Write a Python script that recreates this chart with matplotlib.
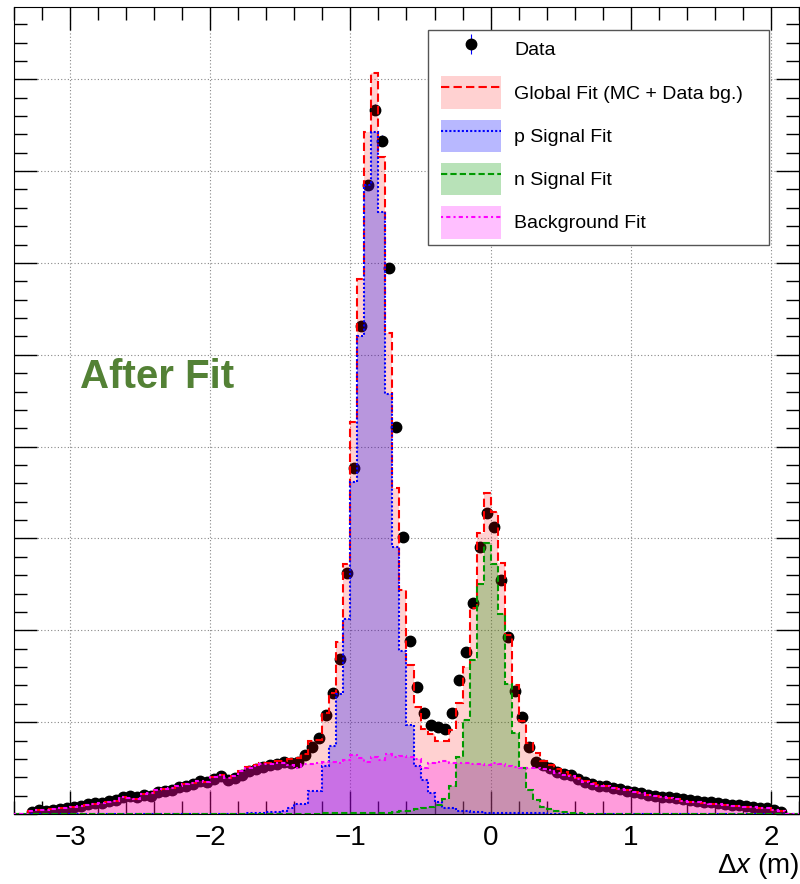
import numpy as np
import matplotlib.pyplot as plt
from matplotlib.patches import Patch, Rectangle
from matplotlib.lines import Line2D
from matplotlib.ticker import MultipleLocator

plt.rcParams['font.family'] = ['Liberation Sans', 'DejaVu Sans']
plt.rcParams['mathtext.fontset'] = 'custom'
plt.rcParams['mathtext.rm'] = 'Liberation Sans'
plt.rcParams['mathtext.it'] = 'Liberation Sans:italic'

# binning of the histograms (metres), 0.05 m bins
bin_lo, bin_hi, bin_w = -3.4, 2.2, 0.05
edges = np.round(np.arange(bin_lo, bin_hi + bin_w / 2, bin_w), 3)

# bin contents, y in units of one grid line (original has no y labels)
data = [0, 0, 0.02, 0.04, 0.035, 0.04, 0.05, 0.07, 0.08, 0.09,
        0.11, 0.12, 0.12, 0.14, 0.15, 0.19, 0.20, 0.19, 0.21, 0.20,
        0.24, 0.25, 0.26, 0.29, 0.30, 0.33, 0.36, 0.35, 0.38, 0.41,
        0.37, 0.39, 0.43, 0.47, 0.49, 0.51, 0.53, 0.54, 0.57, 0.55,
        0.57, 0.64, 0.73, 0.83, 1.08, 1.32, 1.69, 2.62, 3.77, 5.31,
        6.85, 7.67, 7.33, 5.94, 4.21, 3.02, 1.88, 1.38, 1.10, 0.97,
        0.95, 0.93, 1.10, 1.46, 1.76, 2.30, 2.91, 3.28, 3.13, 2.55,
        1.93, 1.34, 1.06, 0.73, 0.57, 0.53, 0.50, 0.46, 0.44, 0.42,
        0.38, 0.35, 0.33, 0.31, 0.30, 0.28, 0.27, 0.25, 0.24, 0.23,
        0.21, 0.20, 0.19, 0.18, 0.17, 0.16, 0.15, 0.14, 0.13, 0.13,
        0.12, 0.11, 0.10, 0.10, 0.09, 0.08, 0.07, 0.06, 0.04, 0.02,
        0, 0]

p_sig = [0] * 33 + [
        0.01, 0.015, 0.015, 0.02, 0.02, 0.03, 0.07,
        0.11, 0.11, 0.25, 0.25, 0.52, 0.74, 1.31, 2.12, 3.62, 5.20,
        6.85, 7.43, 6.55, 4.57, 2.91, 1.78, 0.97, 0.52, 0.37, 0.23,
        0.13, 0.06, 0.06, 0.03, 0.03, 0.02, 0.02, 0.01, 0.01, 0.01,
        0.01, 0.01, 0.01, 0.01, 0.01, 0.01, 0.005, 0.005, 0.005, 0.005,
        0.005] + [0] * 31

n_sig = [0] * 40 + [
        0.005, 0.005, 0.005, 0.005, 0.01, 0.01, 0.01, 0.01, 0.01, 0.01,
        0.01, 0.015, 0.015, 0.015, 0.02, 0.03, 0.03, 0.05, 0.06, 0.08,
        0.10, 0.16, 0.30, 0.62, 1.02, 1.68, 2.50, 2.95, 2.72, 2.18,
        1.42, 0.88, 0.50, 0.26, 0.15, 0.08, 0.05, 0.03, 0.02, 0.01,
        0.01, 0.005, 0.005, 0.005, 0.005, 0.005] + [0] * 26

bkg = [0, 0, 0.03, 0.04, 0.045, 0.05, 0.06, 0.07, 0.08, 0.09,
       0.10, 0.11, 0.12, 0.13, 0.14, 0.18, 0.17, 0.16, 0.22, 0.23,
       0.26, 0.27, 0.28, 0.31, 0.33, 0.34, 0.36, 0.35, 0.40, 0.43,
       0.39, 0.41, 0.47, 0.50, 0.52, 0.54, 0.54, 0.56, 0.55, 0.53,
       0.50, 0.54, 0.54, 0.55, 0.57, 0.57, 0.55, 0.59, 0.64, 0.61,
       0.57, 0.62, 0.59, 0.65, 0.62, 0.63, 0.62, 0.60, 0.50, 0.56,
       0.57, 0.58, 0.55, 0.56, 0.55, 0.54, 0.54, 0.53, 0.56, 0.54,
       0.52, 0.51, 0.50, 0.50, 0.50, 0.49, 0.48, 0.45, 0.43, 0.41,
       0.38, 0.35, 0.33, 0.31, 0.30, 0.28, 0.27, 0.26, 0.24, 0.23,
       0.21, 0.20, 0.18, 0.17, 0.16, 0.14, 0.13, 0.13, 0.12, 0.11,
       0.11, 0.10, 0.09, 0.09, 0.08, 0.075, 0.07, 0.06, 0.045, 0.03,
       0, 0]

events_per_unit = 2000  # for the statistical error bars

data = np.array(data)
p_sig = np.array(p_sig)
n_sig = np.array(n_sig)
bkg = np.array(bkg)
glob = p_sig + n_sig + bkg
centres = 0.5 * (edges[1:] + edges[:-1])
err = np.sqrt(data * events_per_unit) / events_per_unit

fig = plt.figure(figsize=(8, 8.84), dpi=100)
ax = fig.add_axes([14 / 800, 70 / 884, 785 / 800, 807.3 / 884])

m = data > 0
dots = ax.errorbar(centres[m], data[m], yerr=err[m], fmt='o', color='black',
                   ms=7.5, ecolor='blue', elinewidth=0.8, capsize=0, zorder=2)

fits = [
    (glob, 'red', 0.18, (0, (4, 2)), 'Global Fit (MC + Data bg.)'),
    (p_sig, 'blue', 0.28, (0, (1, 1)), 'p Signal Fit'),
    (n_sig, '#009900', 0.28, (0, (3, 1.5)), 'n Signal Fit'),
    (bkg, 'magenta', 0.25, (0, (1, 1.5, 2, 1.5)), 'Background Fit'),
]
handles = [dots]
labels = ['Data']
for vals, col, a, ls, lab in fits:
    ax.stairs(vals, edges, fill=True, color=col, alpha=a, lw=0, zorder=3)
    ax.stairs(vals, edges, color=col, ls=ls, lw=1.5, zorder=4)
    handles.append((Patch(facecolor=col, alpha=a, lw=0),
                    Line2D([], [], color=col, ls=ls, lw=1.5)))
    labels.append(lab)

ax.set_xlim(-3.4, 2.2)
ax.set_ylim(0, 8.79)
ax.xaxis.set_major_locator(MultipleLocator(1))
ax.xaxis.set_minor_locator(MultipleLocator(0.2))
ax.yaxis.set_major_locator(MultipleLocator(1))
ax.yaxis.set_minor_locator(MultipleLocator(0.2))
ax.tick_params(which='both', direction='in', top=True, right=True, width=1)
ax.tick_params(which='major', length=16.5)
ax.tick_params(which='minor', length=9.4)
ax.tick_params(axis='y', labelleft=False)
ax.tick_params(axis='x', labelsize=20, pad=8)
ax.grid(True, which='major', color='#888888', ls=(0, (1, 2)), lw=0.8)
ax.set_axisbelow(True)

ax.set_xlabel(r'$\Delta x$ (m)', fontsize=20, loc='right', labelpad=0)

ax.text(0.084, 0.541, 'After Fit', transform=ax.transAxes, fontsize=29,
        fontweight='bold', color='#538135', va='center', ha='left')

# legend box drawn separately so the inner padding matches the original
ax.add_patch(Rectangle((0.5274, 0.7048), 0.4344, 0.2663, transform=ax.transAxes,
                       facecolor='white', edgecolor='#555555', lw=1, zorder=6))
leg = ax.legend(handles, labels, loc='upper left',
                bbox_to_anchor=(0.544, 0.9674), borderaxespad=0, frameon=False,
                fontsize=14, handlelength=3.09, handleheight=2.2,
                handletextpad=0.67, labelspacing=0.55, borderpad=0)
leg.set_zorder(7)

fig.savefig('out.png', dpi=100)
